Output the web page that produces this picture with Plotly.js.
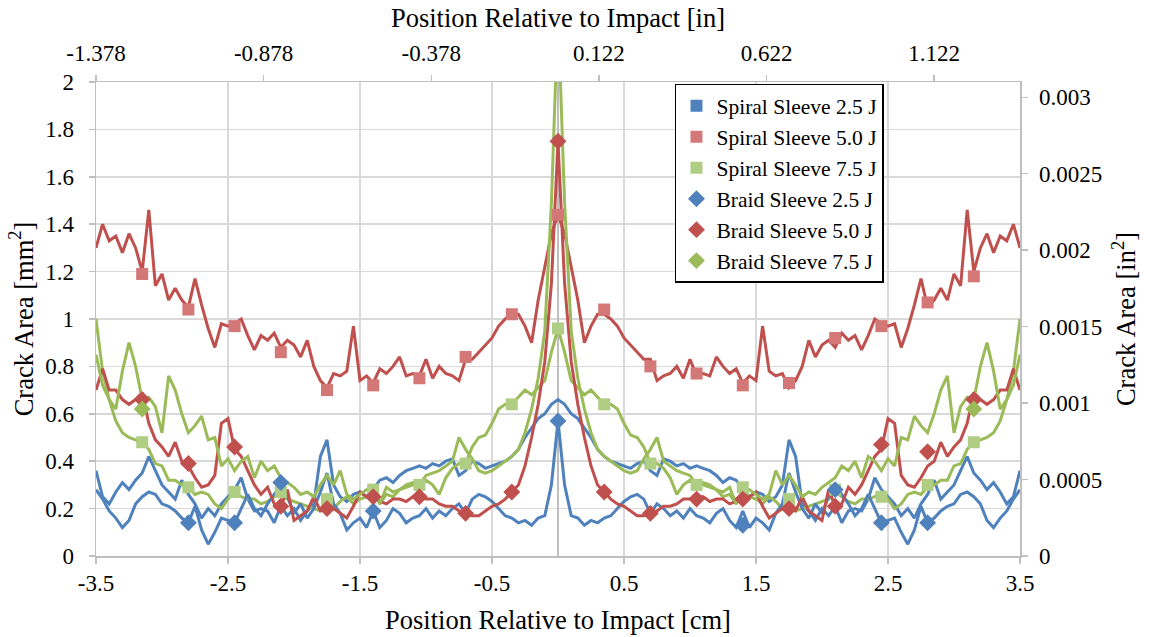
<!DOCTYPE html>
<html><head><meta charset="utf-8">
<script src="https://cdn.plot.ly/plotly-3.0.1.min.js"></script>
<style>html,body{margin:0;padding:0;background:#fff}#chart{width:1149px;height:637px}</style>
</head><body><div id="chart"></div>
<script>
// Positions along the tube (cm), sampled every 0.05 cm
const positionCm = [-3.5,-3.45,-3.4,-3.35,-3.3,-3.25,-3.2,-3.15,-3.1,-3.05,-3,-2.95,-2.9,-2.85,-2.8,-2.75,-2.7,-2.65,-2.6,-2.55,-2.5,-2.45,-2.4,-2.35,-2.3,-2.25,-2.2,-2.15,-2.1,-2.05,-2,-1.95,-1.9,-1.85,-1.8,-1.75,-1.7,-1.65,-1.6,-1.55,-1.5,-1.45,-1.4,-1.35,-1.3,-1.25,-1.2,-1.15,-1.1,-1.05,-1,-0.95,-0.9,-0.85,-0.8,-0.75,-0.7,-0.65,-0.6,-0.55,-0.5,-0.45,-0.4,-0.35,-0.3,-0.25,-0.2,-0.15,-0.1,-0.05,0,0.05,0.1,0.15,0.2,0.25,0.3,0.35,0.4,0.45,0.5,0.55,0.6,0.65,0.7,0.75,0.8,0.85,0.9,0.95,1,1.05,1.1,1.15,1.2,1.25,1.3,1.35,1.4,1.45,1.5,1.55,1.6,1.65,1.7,1.75,1.8,1.85,1.9,1.95,2,2.05,2.1,2.15,2.2,2.25,2.3,2.35,2.4,2.45,2.5,2.55,2.6,2.65,2.7,2.75,2.8,2.85,2.9,2.95,3,3.05,3.1,3.15,3.2,3.25,3.3,3.35,3.4,3.45,3.5];

// Crack area (mm^2)
const spiral25 = [0.36,0.25,0.22,0.27,0.31,0.28,0.32,0.35,0.42,0.36,0.30,0.27,0.24,0.32,0.26,0.22,0.16,0.20,0.17,0.22,0.25,0.28,0.33,0.24,0.19,0.20,0.19,0.14,0.21,0.17,0.20,0.15,0.19,0.22,0.42,0.49,0.30,0.25,0.23,0.26,0.27,0.25,0.28,0.32,0.33,0.31,0.34,0.36,0.37,0.38,0.37,0.39,0.38,0.40,0.41,0.34,0.36,0.40,0.39,0.37,0.38,0.39,0.40,0.42,0.45,0.50,0.54,0.58,0.60,0.64,0.66,
  0.64,0.60,0.58,0.54,0.50,0.45,0.42,0.40,0.39,0.38,0.37,0.39,0.40,0.36,0.34,0.41,0.40,0.38,0.39,0.37,0.38,0.37,0.36,0.34,0.31,0.33,0.32,0.28,0.25,0.27,0.26,0.23,0.25,0.30,0.49,0.42,0.22,0.19,0.15,0.20,0.17,0.21,0.14,0.19,0.20,0.19,0.24,0.33,0.28,0.25,0.22,0.17,0.20,0.16,0.22,0.26,0.32,0.24,0.27,0.30,0.36,0.42,0.35,0.32,0.28,0.31,0.27,0.22,0.25,0.36];
const spiral50 = [1.30,1.40,1.33,1.35,1.28,1.36,1.30,1.20,1.46,1.14,1.19,1.08,1.13,1.08,1.05,1.17,1.06,0.96,0.88,0.98,0.97,0.98,1.00,0.93,0.87,0.93,0.91,0.94,0.88,0.91,0.89,0.84,0.91,0.80,0.74,0.71,0.77,0.76,0.78,0.97,0.74,0.76,0.73,0.79,0.77,0.80,0.84,0.76,0.77,0.76,0.83,0.75,0.80,0.77,0.76,0.74,0.83,0.83,0.86,0.89,0.92,0.97,1.00,1.02,1.02,0.97,0.90,1.08,1.22,1.36,1.44,
  1.36,1.22,1.08,0.90,0.97,1.02,1.02,1.00,0.97,0.92,0.89,0.86,0.83,0.83,0.74,0.76,0.77,0.80,0.75,0.83,0.76,0.77,0.76,0.84,0.80,0.77,0.79,0.73,0.76,0.74,0.97,0.78,0.76,0.77,0.71,0.74,0.80,0.91,0.84,0.89,0.91,0.88,0.94,0.91,0.93,0.87,0.93,1.00,0.98,0.97,0.98,0.88,0.96,1.06,1.17,1.05,1.08,1.13,1.08,1.19,1.14,1.46,1.20,1.30,1.36,1.28,1.35,1.33,1.40,1.30];
const spiral75 = [1.00,0.78,0.66,0.57,0.52,0.50,0.49,0.48,0.45,0.39,0.38,0.32,0.32,0.30,0.29,0.26,0.27,0.26,0.22,0.20,0.24,0.27,0.25,0.24,0.24,0.22,0.23,0.25,0.27,0.24,0.23,0.22,0.21,0.20,0.19,0.24,0.20,0.23,0.25,0.22,0.24,0.25,0.28,0.22,0.26,0.25,0.28,0.29,0.30,0.30,0.32,0.30,0.26,0.33,0.37,0.39,0.39,0.46,0.50,0.51,0.56,0.62,0.64,0.64,0.67,0.70,0.68,0.71,0.74,0.86,0.96,
  0.86,0.74,0.71,0.68,0.70,0.67,0.64,0.64,0.62,0.56,0.51,0.50,0.46,0.39,0.39,0.37,0.33,0.26,0.30,0.32,0.30,0.30,0.29,0.28,0.25,0.26,0.22,0.28,0.25,0.24,0.22,0.25,0.23,0.20,0.24,0.19,0.20,0.21,0.22,0.23,0.24,0.27,0.25,0.23,0.22,0.24,0.24,0.25,0.27,0.24,0.20,0.22,0.26,0.27,0.26,0.29,0.30,0.32,0.32,0.38,0.39,0.45,0.48,0.49,0.50,0.52,0.57,0.66,0.78,1.00];
const braid25 = [0.28,0.24,0.19,0.16,0.12,0.15,0.22,0.25,0.27,0.26,0.22,0.21,0.19,0.16,0.14,0.21,0.11,0.05,0.10,0.16,0.15,0.14,0.20,0.26,0.20,0.17,0.22,0.26,0.30,0.25,0.18,0.22,0.16,0.20,0.27,0.35,0.22,0.18,0.11,0.14,0.16,0.12,0.19,0.12,0.15,0.20,0.18,0.14,0.16,0.17,0.20,0.16,0.19,0.17,0.20,0.22,0.18,0.24,0.26,0.25,0.23,0.20,0.17,0.16,0.14,0.15,0.13,0.16,0.17,0.30,0.57,
  0.30,0.17,0.16,0.13,0.15,0.14,0.16,0.17,0.20,0.23,0.25,0.26,0.24,0.18,0.22,0.20,0.17,0.19,0.16,0.20,0.17,0.16,0.14,0.18,0.20,0.15,0.12,0.19,0.12,0.16,0.14,0.11,0.18,0.22,0.35,0.27,0.20,0.16,0.22,0.18,0.25,0.30,0.26,0.22,0.17,0.20,0.26,0.20,0.14,0.15,0.16,0.10,0.05,0.11,0.21,0.14,0.16,0.19,0.21,0.22,0.26,0.27,0.25,0.22,0.15,0.12,0.16,0.19,0.24,0.28];
const braid50 = [0.70,0.79,0.70,0.70,0.66,0.64,0.66,0.69,0.56,0.49,0.46,0.42,0.48,0.40,0.38,0.33,0.29,0.30,0.34,0.56,0.58,0.45,0.42,0.36,0.30,0.26,0.29,0.22,0.21,0.28,0.15,0.17,0.19,0.25,0.19,0.20,0.20,0.18,0.16,0.21,0.27,0.25,0.25,0.23,0.22,0.24,0.24,0.23,0.25,0.25,0.24,0.24,0.22,0.21,0.21,0.19,0.18,0.17,0.17,0.19,0.21,0.22,0.24,0.27,0.30,0.38,0.50,0.64,0.82,1.15,1.75,
  1.15,0.82,0.64,0.50,0.38,0.30,0.27,0.24,0.22,0.21,0.19,0.17,0.17,0.18,0.19,0.21,0.21,0.22,0.24,0.24,0.25,0.25,0.23,0.24,0.24,0.22,0.23,0.25,0.25,0.27,0.21,0.16,0.18,0.20,0.20,0.19,0.25,0.19,0.17,0.15,0.28,0.21,0.22,0.29,0.26,0.30,0.36,0.42,0.45,0.58,0.56,0.34,0.30,0.29,0.33,0.38,0.40,0.48,0.42,0.46,0.49,0.56,0.69,0.66,0.64,0.66,0.70,0.70,0.79,0.70];
const braid75 = [0.85,0.72,0.66,0.62,0.78,0.90,0.80,0.66,0.67,0.63,0.52,0.76,0.70,0.60,0.52,0.55,0.59,0.49,0.50,0.38,0.41,0.36,0.40,0.42,0.33,0.40,0.36,0.38,0.33,0.31,0.29,0.26,0.27,0.25,0.30,0.34,0.30,0.36,0.26,0.24,0.26,0.28,0.27,0.22,0.29,0.27,0.28,0.30,0.31,0.30,0.34,0.35,0.36,0.38,0.40,0.50,0.45,0.41,0.36,0.35,0.36,0.38,0.40,0.42,0.45,0.52,0.62,0.75,0.95,1.49,2.30,
  1.49,0.95,0.75,0.62,0.52,0.45,0.42,0.40,0.38,0.36,0.35,0.36,0.41,0.45,0.50,0.40,0.38,0.36,0.35,0.34,0.30,0.31,0.30,0.28,0.27,0.29,0.22,0.27,0.28,0.26,0.24,0.26,0.36,0.30,0.34,0.30,0.25,0.27,0.26,0.29,0.31,0.33,0.38,0.36,0.40,0.33,0.42,0.40,0.36,0.41,0.38,0.50,0.49,0.59,0.55,0.52,0.60,0.70,0.76,0.52,0.63,0.67,0.66,0.80,0.90,0.78,0.62,0.66,0.72,0.85];

// Marker positions (cm) and the marker values visible in the chart (null = no marker shown there)
const markerCm = [-3.15,-2.8,-2.45,-2.1,-1.75,-1.4,-1.05,-0.7,-0.35,0,0.35,0.7,1.05,1.4,1.75,2.1,2.45,2.8,3.15];
const spiral25MkCm = [null];
const spiral25Mk = [null];
const spiral50Mk = [1.19,1.04,0.97,0.86,0.70,0.72,0.75,0.84,1.02,1.44,1.04,0.80,0.77,0.72,0.73,0.92,0.97,1.07,1.18];
const spiral75Mk = [0.48,0.29,0.27,0.27,0.24,0.28,0.30,0.39,0.64,0.96,0.64,0.39,0.30,0.29,0.24,0.28,0.25,0.30,0.48];
const braid25Mk = [null,0.14,0.14,0.31,null,0.19,null,null,null,0.57,null,null,null,0.13,null,0.28,0.14,0.14,null];
const braid50Mk = [0.66,0.39,0.46,0.21,0.20,0.25,0.25,0.18,0.27,1.75,0.27,0.18,0.24,0.24,0.20,0.21,0.47,0.44,0.66];
const braid75Mk = [0.62,null,null,null,null,null,null,null,null,null,null,null,null,null,null,null,null,null,0.62];

const names = ['Spiral Sleeve 2.5 J','Spiral Sleeve 5.0 J','Spiral Sleeve 7.5 J','Braid Sleeve 2.5 J','Braid Sleeve 5.0 J','Braid Sleeve 7.5 J'];
const topTicks = [-1.378,-0.878,-0.378,0.122,0.622,1.122];
const topTickText = ['-1.378','-0.878','-0.378','0.122','0.622','1.122'];
const bottomTicks = [-3.5,-2.5,-1.5,-0.5,0.5,1.5,2.5,3.5];
const bottomTickText = ['-3.5','-2.5','-1.5','-0.5','0.5','1.5','2.5','3.5'];
const rightTicks = [0,0.0005,0.001,0.0015,0.002,0.0025,0.003];
const rightTickText = ['0','0.0005','0.001','0.0015','0.002','0.0025','0.003'];

const lineSeries = [spiral25, spiral50, spiral75, braid25, braid50, braid75];
const markerX = [spiral25MkCm, markerCm, markerCm, markerCm, markerCm, markerCm];
const markerSeries = [spiral25Mk, spiral50Mk, spiral75Mk, braid25Mk, braid50Mk, braid75Mk];
const lineColors = ['#4F81BD','#C0504D','#9BBB59','#4F81BD','#C0504D','#9BBB59'];
const markerColors = ['#4F81BD','#D47777','#AFCE84','#4F81BD','#C0504D','#9BBB59'];
const symbols = ['square','square','square','diamond','diamond','diamond'];

const traces = [];
lineSeries.forEach((ys, i) => {
  traces.push({x: positionCm, y: ys, type: 'scatter', mode: 'lines', showlegend: false,
    line: {color: lineColors[i], width: 3}, hoverinfo: 'skip'});
});
markerSeries.forEach((ys, i) => {
  traces.push({x: markerX[i], y: ys, type: 'scatter', mode: 'markers', name: names[i], showlegend: true,
    marker: {symbol: symbols[i], color: markerColors[i], size: symbols[i] === 'square' ? 12 : 13, line: {width: 0}}});
});
// secondary axes (inches / square inches) share the same frame
traces.push({x: [], y: [], xaxis: 'x2', yaxis: 'y2', type: 'scatter', mode: 'lines', showlegend: false, hoverinfo: 'skip'});

const FONT = 'Liberation Serif';
const axisGray = '#BFBFBF';
const tickFont = {family: FONT, size: 23, color: '#000'};
const titleFont = {family: FONT, size: 26.5, color: '#000'};
const layout = {
  width: 1149, height: 637,
  margin: {l: 96, r: 129, t: 82, b: 81, pad: 0},
  paper_bgcolor: '#ffffff', plot_bgcolor: '#ffffff',
  font: {family: FONT, size: 23, color: '#000'},
  showlegend: true,
  legend: {x: 0.6266, y: 0.996, xanchor: 'left', yanchor: 'top', bgcolor: '#ffffff',
    bordercolor: '#000000', borderwidth: 1.5, font: {family: FONT, size: 21.5, color: '#000'},
    tracegroupgap: 0, itemwidth: 30},
  xaxis: {range: [-3.5, 3.5], tickmode: 'array', tickvals: bottomTicks, ticktext: bottomTickText,
    showgrid: true, gridcolor: '#D9D9D9', gridwidth: 1.5, zeroline: true, zerolinecolor: axisGray, zerolinewidth: 1.5,
    showline: true, linecolor: axisGray, linewidth: 1.5, ticks: 'outside', ticklen: 6, tickcolor: axisGray, tickwidth: 1.5,
    tickfont: tickFont, automargin: false,
    title: {text: 'Position Relative to Impact [cm]', font: titleFont, standoff: 15}},
  xaxis2: {overlaying: 'x', side: 'top', range: [-1.378, 1.378], tickmode: 'array', tickvals: topTicks, ticktext: topTickText,
    showgrid: false, zeroline: false, showline: true, linecolor: axisGray, linewidth: 1.5, ticks: 'outside', ticklen: 6,
    tickcolor: axisGray, tickwidth: 1.5, tickfont: tickFont, automargin: false, ticklabelstandoff: 4,
    title: {text: 'Position Relative to Impact [in]', font: titleFont, standoff: 6}},
  yaxis: {range: [0, 2], tickmode: 'linear', tick0: 0, dtick: 0.2, showgrid: true, gridcolor: '#D9D9D9', gridwidth: 1.5,
    zeroline: false, showline: true, linecolor: axisGray, linewidth: 1.5, ticks: 'outside', ticklen: 6, tickcolor: axisGray, tickwidth: 1.5,
    tickfont: tickFont, automargin: false, ticklabelstandoff: 10,
    title: {text: 'Crack Area [mm<sup>2</sup>]', font: titleFont, standoff: 4}},
  yaxis2: {overlaying: 'y', side: 'right', range: [0, 0.0031], tickmode: 'array', tickvals: rightTicks, ticktext: rightTickText,
    showgrid: false, zeroline: false, showline: true, linecolor: axisGray, linewidth: 1.5, ticks: 'outside', ticklen: 6,
    tickcolor: axisGray, tickwidth: 1.5, tickfont: tickFont, automargin: false, ticklabelstandoff: 7,
    title: {text: 'Crack Area [in<sup>2</sup>]', font: titleFont, standoff: 15}}
};
Plotly.newPlot('chart', traces, layout, {displayModeBar: false, staticPlot: true});
</script></body></html>
